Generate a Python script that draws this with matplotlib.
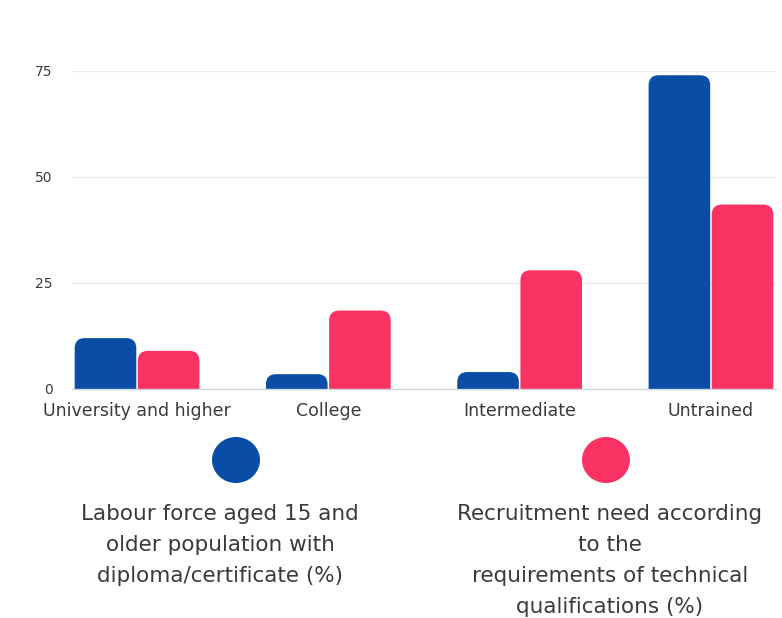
import matplotlib.pyplot as plt
from matplotlib.patches import FancyBboxPatch, Ellipse
import numpy as np

categories = ['University and higher', 'College', 'Intermediate', 'Untrained']
labour_force = [12, 3.5, 4, 74]
recruitment_need = [9, 18.5, 28, 43.5]
yticks = [0, 25, 50, 75]
legend_labels = [
    'Labour force aged 15 and\nolder population with\ndiploma/certificate (%)',
    'Recruitment need according\nto the\nrequirements of technical\nqualifications (%)',
]

BLUE = '#0a4da6'
PINK = '#fb3364'
TEXT = '#3a3a3a'

plt.rcParams['font.family'] = ['DejaVu Sans']

W, H = 782, 618
fig = plt.figure(figsize=(W / 100, H / 100), dpi=100)
# axes box in pixels: left 72, right 776, bottom 389, top 71
ax = fig.add_axes([72 / W, 1 - 389 / H, (776 - 72) / W, (389 - 71) / H])

x = np.arange(len(categories))
bw = 0.33
bars1 = ax.bar(x - bw / 2, labour_force, bw, color=BLUE)
bars2 = ax.bar(x + bw / 2, recruitment_need, bw, color=PINK)
ax.set_xlim(-0.34, 3.34)
ax.set_ylim(0, 75)

# swap plain bars for ones with rounded tops
ax.figure.canvas.draw()
px_x = ax.transData.transform((1, 0))[0] - ax.transData.transform((0, 0))[0]
px_y = ax.transData.transform((0, 1))[1] - ax.transData.transform((0, 0))[1]
r_px = 10
rx, ry = r_px / px_x, r_px / px_y
for bars in (bars1, bars2):
    for b in bars:
        bx, bwid, bh = b.get_x(), b.get_width(), b.get_height()
        p = FancyBboxPatch((bx + 0.004, -ry), bwid - 0.008, bh + ry,
                           boxstyle=f'round,pad=0,rounding_size={rx}',
                           mutation_aspect=ry / rx,
                           facecolor=b.get_facecolor(), edgecolor='none')
        ax.add_patch(p)
        b.set_visible(False)

ax.set_yticks(yticks)
ax.set_yticklabels([str(t) for t in yticks])
ax.tick_params(axis='y', length=0, pad=14, labelsize=10, labelcolor=TEXT)
ax.set_xticks(x)
ax.set_xticklabels(categories)
ax.tick_params(axis='x', length=0, pad=9, labelsize=12.5, labelcolor=TEXT)
ax.grid(axis='y', color='#ececec', linewidth=1)
ax.set_axisbelow(True)
for s in ['top', 'right', 'left']:
    ax.spines[s].set_visible(False)
ax.spines['bottom'].set_color('#cfd6e0')
ax.spines['bottom'].set_linewidth(1)

# legend below the chart
for cx, tx, col, lab in [(236, 220, BLUE, legend_labels[0]),
                         (606, 610, PINK, legend_labels[1])]:
    fig.add_artist(Ellipse((cx / W, 1 - 460 / H), 48 / W, 46 / H,
                           transform=fig.transFigure, facecolor=col, edgecolor='none'))
    fig.text(tx / W, 1 - 504 / H, lab, ha='center', va='top', fontsize=15.5,
             color=TEXT, linespacing=1.68)

fig.savefig('out.png', dpi=100, facecolor='white')
